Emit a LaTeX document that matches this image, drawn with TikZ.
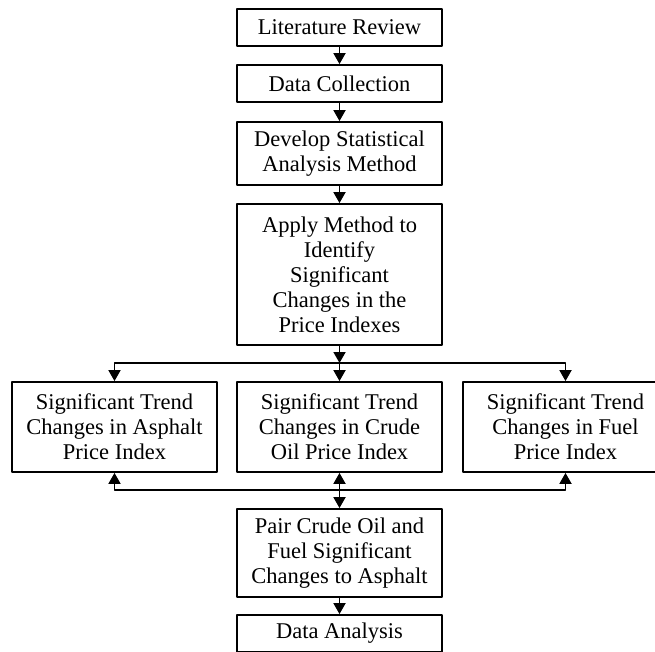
\documentclass[tikz,border=0pt]{standalone}
\usepackage{fontspec}
\setmainfont{Liberation Serif}
\usetikzlibrary{arrows.meta,positioning}

\tikzset{
  box/.style={draw,line width=1.8pt,minimum width=205pt,inner sep=0pt,align=center,
    font=\fontsize{22.5}{25}\selectfont},
  arr/.style={line width=1.8pt,-{Triangle[width=12pt,length=11pt]}}
}

\begin{document}
\begin{tikzpicture}[x=1pt,y=-1pt,line cap=round,line join=round]
		\useasboundingbox (0,0) rectangle (655,652);
		\clip (0,0) rectangle (655,652);
		% main column
		\node[box,minimum height=37pt] (lit) at (339.5,27.5) {Literature Review};
		\node[box,minimum height=37pt] (data) at (339.5,83.5) {Data Collection};
		\node[box,minimum height=63pt] (dev) at (339.5,153.5) {Develop Statistical\\Analysis Method};
		\node[box,minimum height=141pt] (apply) at (339.5,274.5) {Apply Method to\\Identify\\Significant\\Changes in the\\Price Indexes};
		% three indexes
		\node[box,minimum height=90pt] (asph) at (114.5,427) {Significant Trend\\Changes in Asphalt\\Price Index};
		\node[box,minimum height=90pt] (crude) at (339.5,427) {Significant Trend\\Changes in Crude\\Oil Price Index};
		\node[box,minimum height=90pt] (fuel) at (565.5,427) {Significant Trend\\Changes in Fuel\\Price Index};
		% pairing and analysis
		\node[box,minimum height=88pt] (pair) at (339.5,553) {Pair Crude Oil and\\Fuel Significant\\Changes to Asphalt};
		\node[box,minimum height=37pt] (anal) at (339.5,633.5) {Data Analysis};
		\coordinate (split) at (339.5,363);
		\coordinate (join) at (339.5,490);
		% connectors
		\draw[arr] (lit) -- (data);
		\draw[arr] (data) -- (dev);
		\draw[arr] (dev) -- (apply);
		\draw[arr] (apply) -- (split);
		\draw[arr] (split) -- (crude);
		\draw[arr] (split) -| (asph.north);
		\draw[arr] (split) -| (fuel.north);
		\draw[arr] (join) -- (crude);
		\draw[arr] (join) -- (pair);
		\draw[arr] (join) -| (asph.south);
		\draw[arr] (join) -| (fuel.south);
		\draw[arr] (pair) -- (anal);
\end{tikzpicture}
\end{document}
